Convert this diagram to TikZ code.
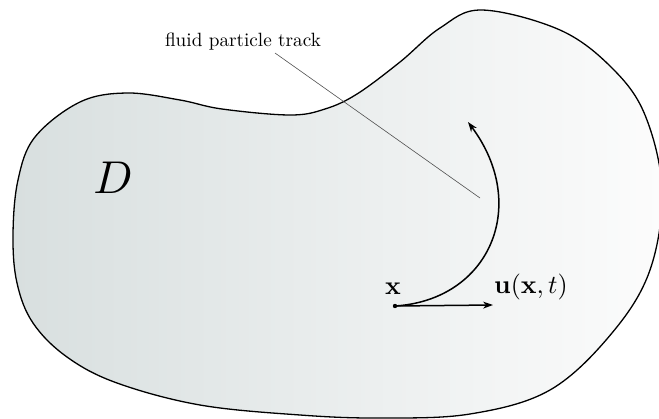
\documentclass[tikz,border=0pt]{standalone}
\usepackage{amsmath}
\usetikzlibrary{arrows.meta}
\definecolor{shadeL}{RGB}{216,223,223}
\definecolor{shadeR}{RGB}{252,252,252}
\definecolor{trackgray}{RGB}{80,80,80}
\tikzset{
  region/.style={draw=black, line width=1.3pt, left color=shadeL, right color=shadeR},
  flowarrow/.style={line width=1.5pt, -{Stealth[length=10pt,width=7pt]}},
  pointer/.style={draw=trackgray, line width=0.6pt},
  lbl/.style={inner sep=0pt, font=\fontsize{10}{12}\selectfont, scale=1.92},
  mathlbl/.style={inner sep=0pt, font=\fontsize{10}{12}\selectfont, scale=2.6}
}
\begin{document}
\begin{tikzpicture}[x=1pt,y=-1pt]
\useasboundingbox (0,0) rectangle (659,418);
\begin{scope}
\clip (0,0) rectangle (659,418);
\path[region] plot[smooth cycle, tension=0.6] coordinates {
 (127,93) (180,100) (222,109) (290,115) (325,109) (357,94) (400,62) (440,28)
 (482,10) (560,30) (612,68) (645,115) (662,190) (650,270) (612,333)
 (550,390) (470,414) (380,418) (300,415) (200,405) (117,383) (67,357) (33,323)
 (17,283) (13,235) (18,180) (35,137) (80,102)};
\end{scope}
\node[lbl] (track) at (243,42) {fluid particle track};
\coordinate (ls) at (275,53);
\coordinate (le) at (480,198);
\draw[pointer] (ls) -- (le);
\node[inner sep=0pt, font=\fontsize{10}{12}\selectfont, scale=4.6] (D) at (113,178) {$D$};
\coordinate (p) at (395,306);
\coordinate (ptip) at (493,305);
\coordinate (ctip) at (468,122);
\draw[flowarrow] (p) .. controls (490,300) and (530,205) .. (ctip);
\draw[flowarrow] (p) -- (ptip);
\fill (p) circle (2.2);
\node[mathlbl] (xlab) at (393,289) {$\mathbf{x}$};
\node[mathlbl] (ulab) at (531,287) {$\mathbf{u}(\mathbf{x},t)$};
\end{tikzpicture}
\end{document}
